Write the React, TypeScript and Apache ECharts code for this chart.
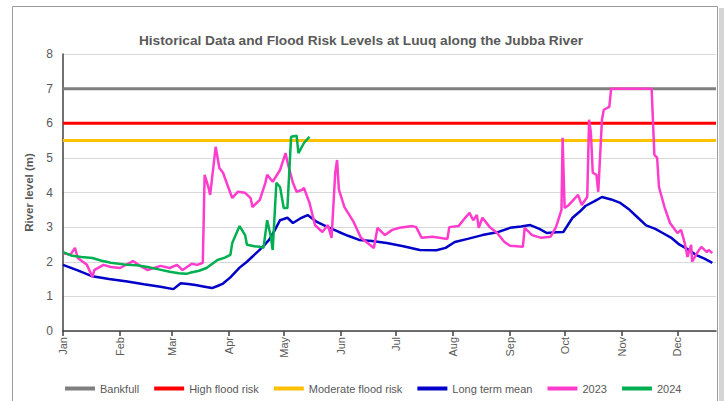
import React, { useEffect, useRef } from "react";
import * as echarts from "echarts";

const monthStarts = [0, 31, 59, 90, 120, 151, 181, 212, 243, 273, 304, 334];
const monthLabels = ["Jan", "Feb", "Mar", "Apr", "May", "Jun", "Jul", "Aug", "Sep", "Oct", "Nov", "Dec"];
const yTicks = [0, 1, 2, 3, 4, 5, 6, 7, 8];

const bankfull = 7;
const highRisk = 6;
const moderateRisk = 5.5;
const lastDay = 355;

// [day of year, river level (m)]
const longTermMean: [number, number][] = [
  [0, 1.91], [8, 1.75], [16, 1.58], [25, 1.5], [35, 1.43], [44, 1.35], [53, 1.28], [60, 1.21],
  [64, 1.38], [68, 1.36], [72, 1.33], [77, 1.28], [81, 1.24], [84, 1.3], [87, 1.37], [91, 1.55],
  [96, 1.83], [100, 2.0], [105, 2.25], [109, 2.45], [112, 2.63], [115, 2.9], [118, 3.2], [122, 3.27],
  [125, 3.12], [129, 3.25], [133, 3.35], [138, 3.15], [144, 3.0], [150, 2.86], [155, 2.75],
  [161, 2.63], [168, 2.6], [176, 2.54], [185, 2.45], [194, 2.34], [203, 2.33], [208, 2.4],
  [213, 2.57], [220, 2.66], [228, 2.77], [236, 2.85], [243, 2.98], [249, 3.02], [254, 3.06],
  [259, 2.95], [263, 2.83], [268, 2.85], [272, 2.86], [277, 3.27], [281, 3.45], [284, 3.61],
  [289, 3.75], [293, 3.87], [298, 3.8], [303, 3.7], [308, 3.5], [312, 3.3], [317, 3.05],
  [322, 2.95], [326, 2.83], [331, 2.68], [335, 2.5], [340, 2.35], [344, 2.2], [349, 2.08], [353, 1.97]
];

const y2023: [number, number][] = [
  [0, 2.25], [4, 2.2], [6.5, 2.4], [8, 2.11], [13, 1.91], [16, 1.56], [17, 1.76], [22, 1.91],
  [26, 1.85], [31, 1.82], [38, 2.02], [43, 1.85], [46, 1.76], [53, 1.88], [58, 1.82], [62, 1.91],
  [65, 1.76], [70, 1.94], [73, 1.91], [76, 1.97], [77, 4.51], [79, 4.16], [80, 3.93], [83, 5.32],
  [85, 4.71], [87, 4.57], [90, 4.13], [92, 3.84], [95, 4.02], [99, 3.99], [102, 3.84], [103, 3.58],
  [107, 3.79], [110, 4.28], [111, 4.51], [114, 4.31], [118, 4.65], [121, 5.14], [122, 4.88],
  [125, 4.28], [127, 4.02], [130, 4.08], [131, 4.13], [134, 3.7], [137, 3.06], [141, 2.86],
  [144, 3.06], [146, 2.69], [148, 4.57], [149, 4.94], [150, 4.08], [153, 3.58], [158, 3.15],
  [162, 2.69], [169, 2.4], [171, 2.98], [175, 2.77], [179, 2.92], [183, 2.98], [190, 3.03],
  [192, 3.0], [195, 2.69], [201, 2.72], [209, 2.66], [210, 3.0], [215, 3.03], [219, 3.29],
  [221, 3.41], [223, 3.2], [225, 3.35], [226, 2.98], [228, 3.27], [232, 3.0], [236, 2.83],
  [240, 2.57], [243, 2.46], [250, 2.43], [251, 2.98], [255, 2.77], [260, 2.69], [265, 2.72],
  [268, 3.0], [271, 3.5], [271.6, 5.58], [272.7, 3.55], [275, 3.64], [280, 3.93], [282, 3.64],
  [285, 3.87], [286, 6.1], [287, 5.72], [288, 4.57], [290, 4.51], [291, 4.02], [293, 6.1],
  [294, 6.39], [297, 6.47], [298, 7.0], [320, 7.0], [321.5, 5.09], [323, 5.0], [324, 4.16],
  [327, 3.58], [330, 3.12], [334, 2.83], [336, 2.92], [338, 2.54], [339.5, 2.14], [341.5, 2.49],
  [342, 2.0], [345, 2.28], [347, 2.43], [350, 2.28], [351, 2.34], [353, 2.25]
];

const y2024: [number, number][] = [
  [0, 2.28], [5, 2.17], [10, 2.14], [16, 2.11], [21, 2.03], [26, 1.97], [35, 1.91], [40, 1.9],
  [46, 1.85], [52, 1.78], [58, 1.71], [63, 1.67], [67, 1.65], [69, 1.68], [74, 1.74], [78, 1.82],
  [84, 2.05], [88, 2.12], [91, 2.2], [92, 2.54], [96, 3.03], [99, 2.77], [100, 2.49], [104, 2.45],
  [107, 2.43], [109, 2.4], [111, 3.2], [113, 2.72], [114, 2.34], [116, 4.28], [118, 4.16],
  [120, 3.55], [122, 3.55], [124, 5.61], [127, 5.64], [128, 5.14], [131, 5.43], [134, 5.61]
];

const flat = (v: number): [number, number][] => [[0, v], [lastDay, v]];

export default function App() {
  const ref = useRef<HTMLDivElement>(null);
  useEffect(() => {
    if (!ref.current) return;
    const chart = echarts.init(ref.current, undefined, { renderer: "svg" });
    const font = "'Liberation Sans', Arial, sans-serif";
    const grey = "#595959";
    const line = (name: string, data: [number, number][], color: string, width: number) => ({
      name,
      type: "line",
      data,
      color,
      showSymbol: false,
      symbol: "none",
      lineStyle: { color, width },
      emphasis: { disabled: true },
    });
    chart.setOption({
      animation: false,
      backgroundColor: "#ffffff",
      textStyle: { fontFamily: font },
      title: {
        text: "Historical Data and Flood Risk Levels at Luuq along the Jubba River",
        left: 356,
        textAlign: "center",
        top: 28,
        textStyle: { fontFamily: font, fontSize: 13.7, fontWeight: "bold", color: grey },
      },
      graphic: [
        {
          type: "rect",
          shape: { x: 12.5, y: 6.5, width: 705, height: 400 },
          style: { fill: "none", stroke: "#9a9a9a", lineWidth: 1 },
          silent: true,
        },
        {
          type: "rect",
          shape: { x: 719, y: 8, width: 5, height: 393 },
          style: { fill: "#d4d4d4" },
          silent: true,
        },
      ],
      legend: {
        top: 378,
        left: 60,
        width: 660,
        itemWidth: 30,
        itemHeight: 4,
        itemGap: 15,
        icon: "rect",
        textStyle: { fontFamily: font, fontSize: 11, color: grey },
        data: ["Bankfull", "High flood risk", "Moderate flood risk", "Long term mean", "2023", "2024"],
      },
      grid: { left: 63, right: 8, top: 54, bottom: 70, containLabel: false },
      xAxis: {
        type: "value",
        min: 0,
        max: lastDay,
        splitLine: { show: false },
        axisLine: { show: true, lineStyle: { color: "#404040", width: 1.5 } },
        axisTick: { show: true, customValues: monthStarts, length: 5, lineStyle: { color: "#404040", width: 1.5 } },
        axisLabel: {
          customValues: monthStarts,
          rotate: 90,
          margin: 6,
          fontFamily: font,
          fontSize: 11,
          color: grey,
          formatter: (v: number) => monthLabels[monthStarts.indexOf(Math.round(v))] ?? "",
        },
      },
      yAxis: {
        type: "value",
        min: yTicks[0],
        max: yTicks[yTicks.length - 1],
        interval: 1,
        name: "River level (m)",
        nameLocation: "middle",
        nameGap: 24,
        nameTextStyle: { fontFamily: font, fontSize: 11.5, fontWeight: "bold", color: grey },
        axisLine: { show: true, lineStyle: { color: "#404040", width: 1.5 } },
        axisTick: { show: false },
        axisLabel: { fontFamily: font, fontSize: 12, color: grey, margin: 10 },
        splitLine: { show: true, lineStyle: { color: "#d9d9d9", width: 1 } },
      },
      series: [
        line("Bankfull", flat(bankfull), "#7f7f7f", 3),
        line("High flood risk", flat(highRisk), "#ff0000", 3),
        line("Moderate flood risk", flat(moderateRisk), "#ffc000", 3),
        line("Long term mean", longTermMean, "#0000c8", 2.5),
        line("2023", y2023, "#ff3ccc", 2.5),
        line("2024", y2024, "#00b050", 2.5),
      ],
    });
    return () => chart.dispose();
  }, []);
  return (
    <div
      ref={ref}
      style={{ position: "absolute", left: 0, top: 0, width: 724, height: 401 }}
    />
  );
}
